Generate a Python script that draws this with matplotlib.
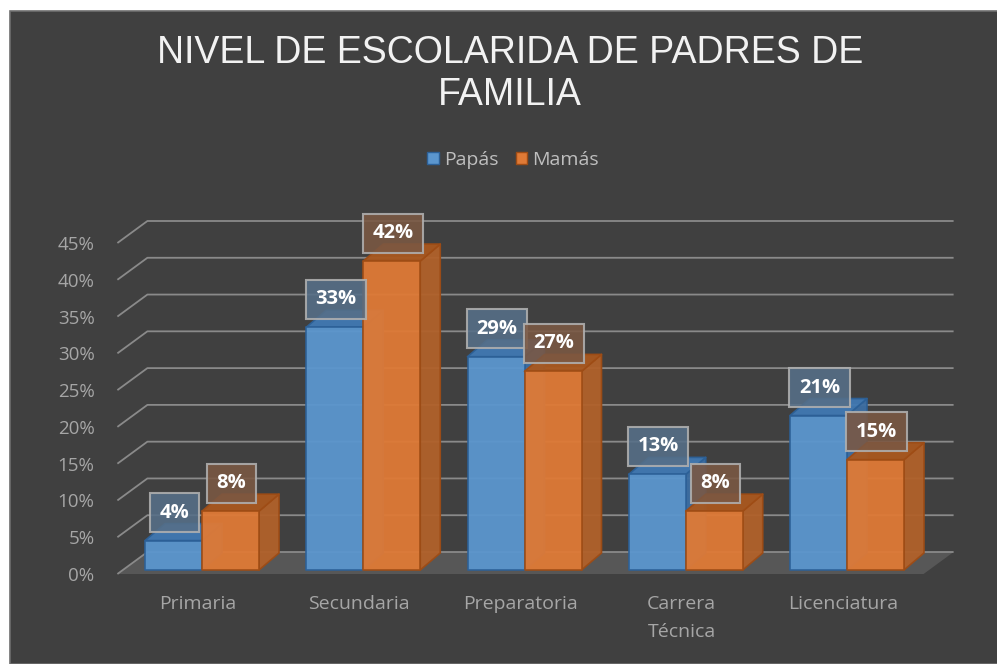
import matplotlib

matplotlib.use("Agg")
import matplotlib.pyplot as plt
from matplotlib.patches import Polygon, Rectangle, Patch

# data
categories = ["Primaria", "Secundaria", "Preparatoria", "Carrera\nTécnica", "Licenciatura"]
series_names = ["Papás", "Mamás"]
papas = [0.04, 0.33, 0.29, 0.13, 0.21]
mamas = [0.08, 0.42, 0.27, 0.08, 0.15]
y_ticks = [0.0, 0.05, 0.10, 0.15, 0.20, 0.25, 0.30, 0.35, 0.40, 0.45]
title = "NIVEL DE ESCOLARIDA DE PADRES DE\nFAMILIA"

BG = "#404040"
TXT = "#a6a6a6"
front_c = ["#5b96ce", "#df7a36"]
top_c = ["#4079b3", "#a9581f"]
side_c = ["#3c6ea3", "#b1612a"]
edge_c = ["#2c6097", "#9e4c15"]
lab_c = ["#566f88", "#7b5843"]
FONT = "Open Sans"

W, H = 997, 664
fig = plt.figure(figsize=(W / 100, H / 100), dpi=100, facecolor="white")

# dark chart frame with a thin white margin on the left / top
fig.add_artist(Rectangle((10 / W, 0), 1, 1 - 11 / H, transform=fig.transFigure,
                         facecolor=BG, edgecolor="#6e6e6e", linewidth=1.2, zorder=-10))

# axes == front plane of the 3-d box
ax_l, ax_r, ax_b, ax_t = 117.4, 923.6, 574, 243
ax = fig.add_axes([ax_l / W, (H - ax_b) / H, (ax_r - ax_l) / W, (ax_b - ax_t) / H])
ax.set_facecolor("none")
ax.set_xlim(-0.5, len(categories) - 0.5)
ax.set_ylim(0, 0.45)
for s in ax.spines.values():
    s.set_visible(False)

# pixel -> data conversion for the depth offsets
px_x = (len(categories)) / (ax_r - ax_l)
px_y = 0.45 / (ax_b - ax_t)
wall_dx, wall_dy = 30 * px_x, 22 * px_y      # depth of the back wall
bar_ox, bar_oy = 4 * px_x, 4 * px_y          # bars sit slightly behind the front plane
bar_dx, bar_dy = 20 * px_x, 17 * px_y        # bar depth
bw = 57 * px_x

x_lo, x_hi = -0.5, len(categories) - 0.5

# floor
ax.add_patch(Polygon([(x_lo, 0), (x_hi, 0), (x_hi + wall_dx, wall_dy), (x_lo + wall_dx, wall_dy)],
                     closed=True, facecolor="#575757", edgecolor="none", clip_on=False, zorder=1))

# gridlines: short diagonal on the side wall + line along the back wall
for t in y_ticks:
    ax.plot([x_lo, x_lo + wall_dx, x_hi + wall_dx], [t, t + wall_dy, t + wall_dy],
            color="#8a8a8a", lw=1.3, clip_on=False, zorder=2, solid_capstyle="butt")

# bars
for i in range(len(categories)):
    for s, vals in enumerate([papas, mamas]):
        v = vals[i]
        x0 = i + (s - 1) * bw + bar_ox
        y0 = bar_oy
        kw = dict(closed=True, edgecolor=edge_c[s], linewidth=1.2, clip_on=False, zorder=3,
                  alpha=0.95, joinstyle="round")
        ax.add_patch(Polygon([(x0 + bw, y0), (x0 + bw + bar_dx, y0 + bar_dy),
                              (x0 + bw + bar_dx, y0 + v + bar_dy), (x0 + bw, y0 + v)],
                             facecolor=side_c[s], **kw))
        ax.add_patch(Polygon([(x0, y0 + v), (x0 + bw, y0 + v),
                              (x0 + bw + bar_dx, y0 + v + bar_dy), (x0 + bar_dx, y0 + v + bar_dy)],
                             facecolor=top_c[s], **kw))
        ax.add_patch(Polygon([(x0, y0), (x0 + bw, y0), (x0 + bw, y0 + v), (x0, y0 + v)],
                             facecolor=front_c[s], **kw))

# data labels
for i in range(len(categories)):
    for s, vals in enumerate([papas, mamas]):
        v = vals[i]
        xc = i + (s - 0.5) * bw + bar_ox
        ax.annotate(f"{v:.0%}", (xc, bar_oy + v), xytext=(1, 28), textcoords="offset pixels",
                    ha="center", va="center", color="white", fontsize=14.5, fontweight="bold",
                    family=FONT, zorder=6, annotation_clip=False,
                    bbox=dict(boxstyle="square,pad=0.47", facecolor=lab_c[s], alpha=0.88,
                              edgecolor="#b0b0b0", linewidth=1.5))

# axes ticks
ax.set_yticks(y_ticks)
ax.set_yticklabels([f"{t:.0%}" for t in y_ticks])
ax.set_xticks(range(len(categories)))
ax.set_xticklabels(categories, linespacing=1.75)
ax.tick_params(axis="y", length=0, pad=16.5, labelsize=13.5, labelcolor=TXT)
ax.tick_params(axis="x", length=0, pad=15, labelsize=14, labelcolor=TXT)
for lab in ax.get_xticklabels() + ax.get_yticklabels():
    lab.set_family(FONT)

# legend
handles = [Patch(facecolor=front_c[s], edgecolor=edge_c[s], label=series_names[s]) for s in range(2)]
leg = fig.legend(handles=handles, loc="center", bbox_to_anchor=(513 / W, (H - 160) / H), ncol=2,
                 frameon=False, handlelength=0.6, handleheight=0.6, handletextpad=0.25,
                 columnspacing=0.9, prop={"family": FONT, "size": 14})
for txt in leg.get_texts():
    txt.set_color("#bfbfbf")

fig.text(510 / W, (H - 74) / H, title, ha="center", va="center", color="#f2f2f2",
         fontsize=27, family="Liberation Sans", linespacing=1.2)

fig.savefig("out.png", dpi=100, facecolor=fig.get_facecolor())
